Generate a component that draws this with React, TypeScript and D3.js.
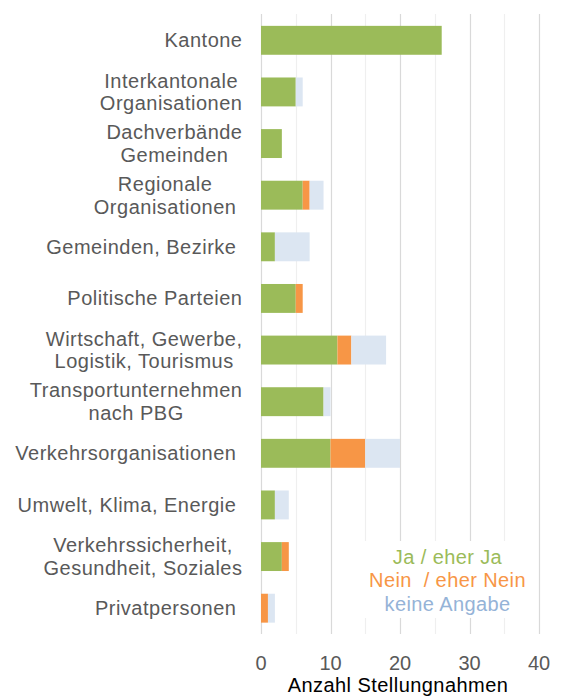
import { useEffect, useRef } from "react"
import * as d3 from "d3"

// Kategorien (Zeilen von oben nach unten), Zeilenumbrüche wie im Original
const categories = [
  ["Kantone"],
  ["Interkantonale", "Organisationen"],
  ["Dachverbände", "Gemeinden"],
  ["Regionale ", "Organisationen "],
  ["Gemeinden, Bezirke "],
  ["Politische Parteien"],
  ["Wirtschaft, Gewerbe,", "Logistik, Tourismus"],
  ["Transportunternehmen", "nach PBG"],
  ["Verkehrsorganisationen "],
  ["Umwelt, Klima, Energie "],
  ["Verkehrssicherheit,", "Gesundheit, Soziales"],
  ["Privatpersonen "],
]

const ja = [26, 5, 3, 6, 2, 5, 11, 9, 10, 2, 3, 0]
const nein = [0, 0, 0, 1, 0, 1, 2, 0, 5, 0, 1, 1]
const keine = [0, 1, 0, 2, 5, 0, 5, 1, 5, 2, 0, 1]

const seriesKeys = ["ja", "nein", "keine"]
const seriesNames = ["Ja / eher Ja", "Nein  / eher Nein", "keine Angabe"]
const barColors = ["#9BBB59", "#F79646", "#DCE6F2"]
const legendColors = ["#9BBB59", "#F79646", "#95B3D7"]

const xTickLabels = [0, 10, 20, 30, 40]
const xTitle = "Anzahl Stellungnahmen"

const FONT = "'Liberation Sans', Arial, sans-serif"

export default function App() {
  const svgRef = useRef<SVGSVGElement>(null)

  useEffect(() => {
    const width = 565
    const height = 697
    const svg = d3.select(svgRef.current)
    svg.selectAll("*").remove()
    svg.attr("viewBox", `0 0 ${width} ${height}`)

    const rows = categories.map((c, i) => ({
      key: c.join(" "),
      lines: c,
      ja: ja[i],
      nein: nein[i],
      keine: keine[i],
    }))

    const x = d3.scaleLinear().domain([0, 40]).range([261, 539])
    const y = d3
      .scaleBand()
      .domain(rows.map(d => d.key))
      .range([14.5, 634])
      .paddingInner(0.44)
      .paddingOuter(0.22)

    // Gitterlinien
    const grid = svg.append("g")
    grid
      .selectAll("line")
      .data(x.ticks(8))
      .join("line")
      .attr("x1", d => Math.round(x(d)) + 0.5)
      .attr("x2", d => Math.round(x(d)) + 0.5)
      .attr("y1", 14)
      .attr("y2", 634)
      .attr("stroke", d => (d % 10 === 0 ? "#D9D9D9" : "#EFEFEF"))
      .attr("stroke-width", 1.2)

    // Balken
    const stacked = d3.stack().keys(seriesKeys)(rows as any)
    svg
      .append("g")
      .selectAll("g")
      .data(stacked)
      .join("g")
      .attr("fill", (_, i) => barColors[i])
      .selectAll("rect")
      .data(d => d)
      .join("rect")
      .attr("x", d => x(d[0]))
      .attr("width", d => x(d[1]) - x(d[0]))
      .attr("y", d => y((d.data as any).key)!)
      .attr("height", y.bandwidth())

    // Kategorie-Beschriftungen
    const labelRight = 242.5
    const lineH = 22.8
    const lab = svg
      .append("g")
      .attr("font-family", FONT)
      .attr("font-size", 20)
      .attr("letter-spacing", 0.5)
      .attr("fill", "#595959")
    rows.forEach(r => {
      const cy = y(r.key)! + y.bandwidth() / 2
      const t = lab
        .append("text")
        .attr("text-anchor", "middle")
        .style("white-space", "pre")
      const n = r.lines.length
      const spans = r.lines.map((ln, j) =>
        t
          .append("tspan")
          .attr("y", cy + 7 + (j - (n - 1) / 2) * lineH)
          .text(ln)
      )
      const w = d3.max(spans, s => (s.node() as SVGTSpanElement).getComputedTextLength()) || 0
      spans.forEach(s => s.attr("x", labelRight - w / 2))
    })

    // Achsenbeschriftung
    svg
      .append("g")
      .selectAll("text")
      .data(xTickLabels)
      .join("text")
      .attr("x", d => x(d))
      .attr("y", 670)
      .attr("text-anchor", "middle")
      .attr("font-family", FONT)
      .attr("font-size", 20)
      .attr("fill", "#595959")
      .text(d => d)

    svg
      .append("text")
      .attr("x", 398)
      .attr("y", 692)
      .attr("text-anchor", "middle")
      .attr("font-family", FONT)
      .attr("font-size", 20)
      .attr("letter-spacing", 0.45)
      .attr("fill", "#000")
      .text(xTitle)

    // Legende
    svg
      .append("rect")
      .attr("x", 345)
      .attr("y", 541)
      .attr("width", 180)
      .attr("height", 77)
      .attr("fill", "#fff")
    svg
      .append("g")
      .selectAll("text")
      .data(seriesNames)
      .join("text")
      .attr("x", 447.5)
      .attr("y", (_, i) => 563.5 + i * 23.7)
      .attr("text-anchor", "middle")
      .attr("font-family", FONT)
      .attr("font-size", 20)
      .attr("letter-spacing", 0.4)
      .style("white-space", "pre")
      .attr("fill", (_, i) => legendColors[i])
      .text(d => d)
  }, [])

  return (
    <svg
      ref={svgRef}
      width={565}
      height={697}
      style={{ position: "absolute", left: 0, top: 0, background: "#fff" }}
    />
  )
}
